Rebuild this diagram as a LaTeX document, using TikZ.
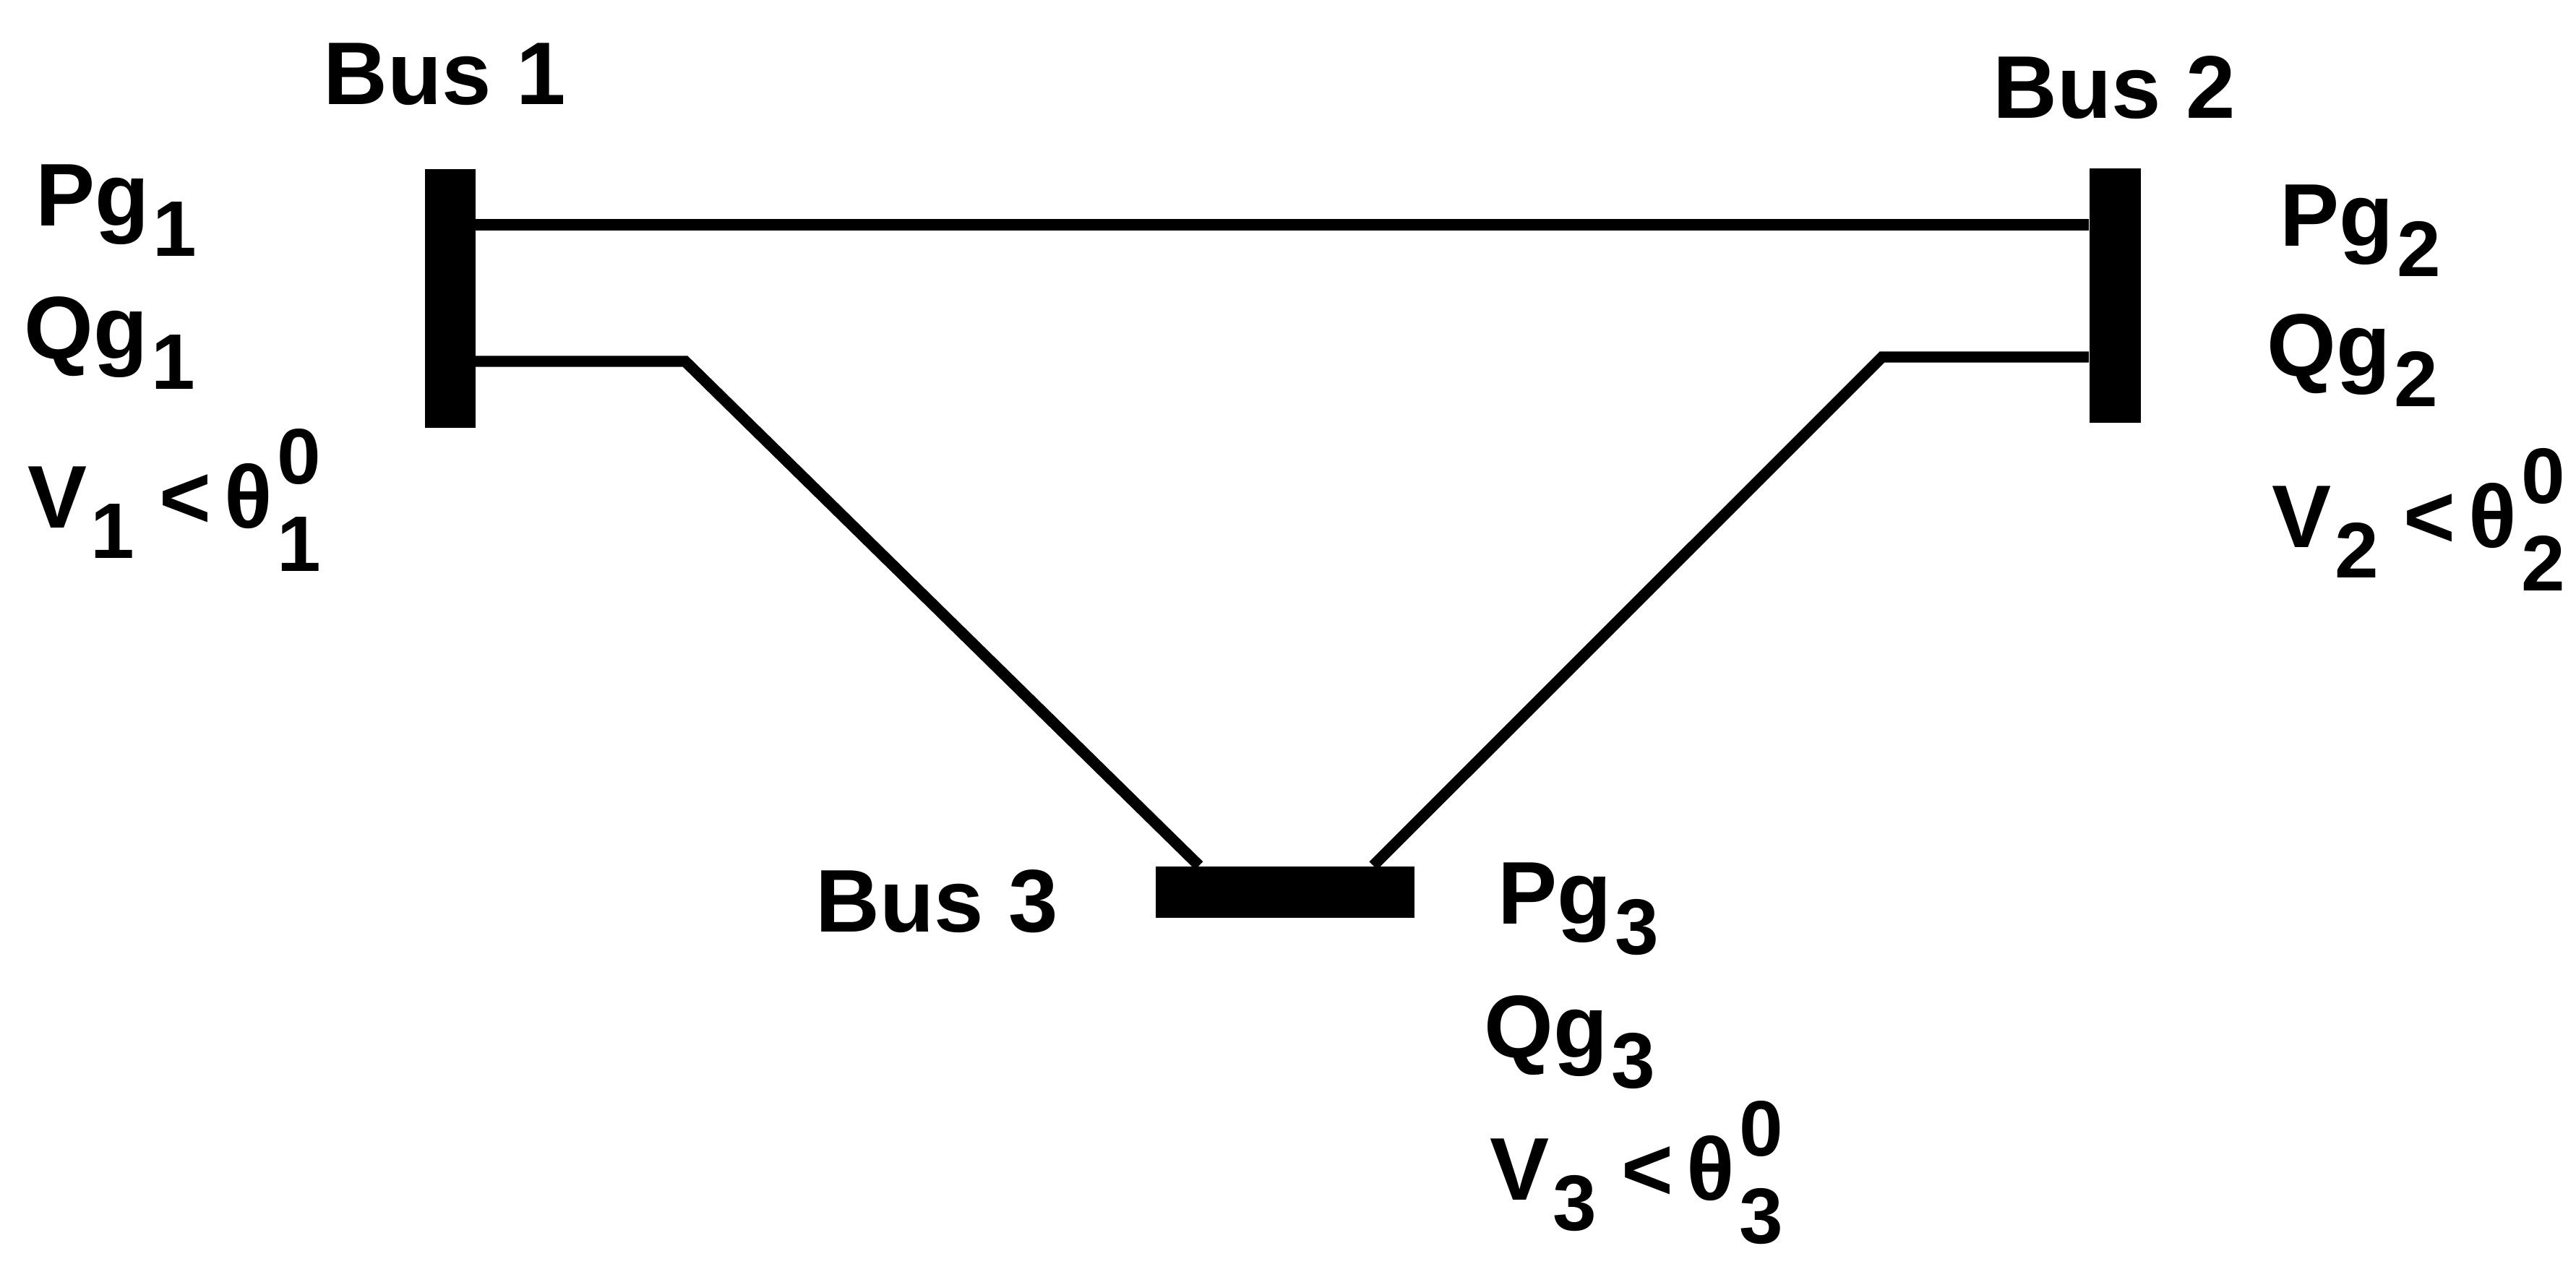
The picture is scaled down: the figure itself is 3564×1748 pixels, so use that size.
\documentclass[tikz,border=0pt]{standalone}
\usepackage{fontspec}
\setmainfont{Liberation Sans}
\usetikzlibrary{positioning, calc}

% lowered index / index with power
\newcommand{\lo}[1]{\kern0.04em\raisebox{-0.42cm}{\fontsize{31}{31}\selectfont #1}}
\newcommand{\losup}[2]{\kern0.05em\rlap{\raisebox{-0.6cm}{\fontsize{31}{31}\selectfont #1}}\raisebox{0.6cm}{\fontsize{31}{31}\selectfont #2}}

\begin{document}
\begin{tikzpicture}[x=0.01cm, y=-0.01cm,
            bus/.style={fill=black, rectangle, inner sep=0pt},
            edge/.style={line width=4.4pt},
            busname/.style={font=\fontsize{35}{35}\selectfont\bfseries, anchor=base west, inner sep=0pt},
            quantity/.style={font=\fontsize{35}{35}\selectfont\bfseries, anchor=base west, inner sep=0pt}
        ]
        \useasboundingbox (0,0) rectangle (3564,1748);

        % Sammelschienen
        \node[bus, minimum width=0.69cm, minimum height=3.57cm] (bus1) at (623,413) {};
        \node[bus, minimum width=0.71cm, minimum height=3.52cm] (bus2) at (2926,409) {};
        \node[bus, minimum width=3.57cm, minimum height=0.71cm] (bus3) at (1778,1234) {};

        \node[busname] (name1) at (447,144) {Bus 1};
        \node[busname] (name2) at (2757,163) {Bus 2};
        \node[busname] (name3) at (1128,1289) {Bus 3};

        % Groessen an den Knoten
        \node[quantity] (pg1) at (49,312) {Pg\lo{1}};
        \node[quantity] (qg1) at (33,496) {Qg\lo{1}};
        \node[quantity] (v1) at (38,730) {V\lo{1} <\kern0.15em θ\losup{1}{0}};

        \node[quantity] (pg2) at (3154,340) {Pg\lo{2}};
        \node[quantity] (qg2) at (3136,520) {Qg\lo{2}};
        \node[quantity] (v2) at (3143,757) {V\lo{2} <\kern0.15em θ\losup{2}{0}};

        \node[quantity] (pg3) at (2072,1278) {Pg\lo{3}};
        \node[quantity] (qg3) at (2053,1463) {Qg\lo{3}};
        \node[quantity] (v3) at (2061,1660) {V\lo{3} <\kern0.15em θ\losup{3}{0}};

        % Leitungen
        \coordinate (top) at (1700,311);
        \coordinate (k1) at (948,500);
        \coordinate (k2) at (2604,494);

        \draw[edge] (bus1.east |- top) -- (bus2.west |- top);
        \draw[edge] (bus1.east |- k1) -- (k1) -- ($(bus3.north west)!0.168!(bus3.north east)$);
        \draw[edge] (bus2.west |- k2) -- (k2) -- ($(bus3.north west)!0.84!(bus3.north east)$);

    \end{tikzpicture}
\end{document}
